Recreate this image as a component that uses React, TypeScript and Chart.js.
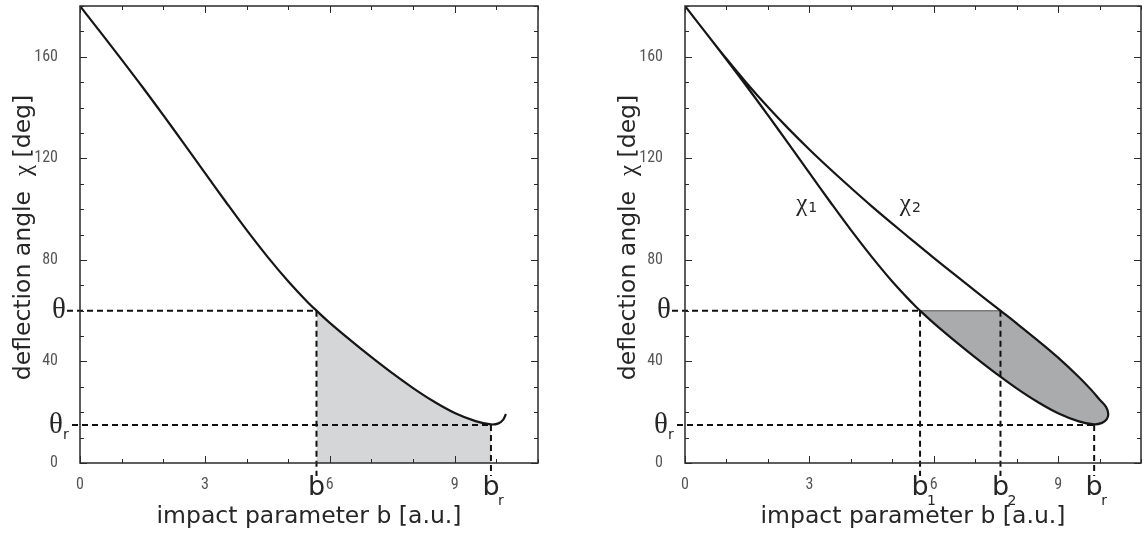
import React, { useEffect, useRef } from "react";
import { Chart, registerables } from "chart.js";

Chart.register(...registerables);

// ---------- axes ----------
const X_MIN = 0;
const X_MAX = 11;
const Y_MIN = 0;
const Y_MAX = 180;
const X_TICK_LABELS = [0, 3, 6, 9];
const Y_TICK_LABELS = [0, 40, 80, 120, 160];

// ---------- reference angles ----------
const THETA = 60;
const THETA_R = 15;

// ---------- left panel: single-valued deflection function ----------
const LEFT_B = [0, 0.5, 1, 1.5, 2, 2.5, 3, 3.5, 4, 4.5, 5, 5.5, 5.68, 6, 6.5, 7, 7.5, 8, 8.5, 9, 9.5, 9.87, 10.05, 10.16, 10.23];
const LEFT_CHI = [180, 169.5, 158.9, 148.1, 137, 125.7, 114.3, 102.9, 91.8, 81.3, 71.6, 62.8, 60, 55.2, 48.3, 41.7, 35.4, 29.5, 24.2, 19.7, 16.5, 15.2, 15.6, 17, 19.3];
const LEFT_B_THETA = 5.68;
const LEFT_B_R = 9.87;

// ---------- right panel: two branches chi1 / chi2 ----------
const CHI1_B = [0, 0.5, 1, 1.5, 2, 2.5, 3, 3.5, 4, 4.5, 5, 5.5, 5.67, 6, 6.5, 7, 7.5, 8, 8.5, 9, 9.5, 9.87, 10.06, 10.17, 10.21];
const CHI1_VAL = [180, 169.5, 158.9, 148.1, 137, 125.7, 114.3, 102.9, 91.8, 81.3, 71.5, 62.7, 60, 55.1, 48.2, 41.6, 35.3, 29.4, 24.1, 19.6, 16.4, 15.2, 15.8, 17.2, 19.2];
const CHI2_B = [10.21, 10.16, 10.0, 9.8, 9.5, 9.0, 8.5, 8.0, 7.61, 7.0, 6.5, 6.0, 5.5, 5.0, 4.5, 4.0, 3.5, 3.0, 2.5, 2.0, 1.5, 1.0, 0.5, 0];
const CHI2_VAL = [19.2, 22, 25, 28.8, 33.9, 41.5, 48.4, 55, 60, 67.8, 74.3, 80.8, 87.5, 94.3, 101.2, 108.4, 115.8, 123.5, 131.6, 140.2, 149.4, 159.2, 169.5, 180];
const RIGHT_B1 = 5.67;
const RIGHT_B2 = 7.61;
const RIGHT_B_R = 9.87;

const CURVE_COLOR = "#161616";
const TEXT_COLOR = "#262626";
const TICK_TEXT_COLOR = "#555";
const SANS = "'DejaVu Sans', sans-serif";
const TICK_FONT = "'Liberation Sans Narrow', 'Roboto Condensed', Roboto, sans-serif";
const SERIF = "'Liberation Serif', 'DejaVu Serif', serif";

const pts = (xs: number[], ys: number[]) => xs.map((x, i) => ({ x, y: ys[i] }));

function drawRuns(ctx: CanvasRenderingContext2D, runs: { t: string; f: string }[], cx: number, cy: number) {
  let total = 0;
  for (const r of runs) {
    ctx.font = r.f;
    total += ctx.measureText(r.t).width;
  }
  let x = cx - total / 2;
  ctx.textAlign = "left";
  for (const r of runs) {
    ctx.font = r.f;
    ctx.fillText(r.t, x, cy);
    x += ctx.measureText(r.t).width;
  }
}

const decor = {
  id: "decor",
  afterDatasetsDraw(chart: any, _a: any, opts: any) {
    const { ctx, chartArea: a, scales } = chart;
    const x = scales.x;
    const y = scales.y;
    ctx.save();
    // dashed reference lines
    ctx.strokeStyle = "#111";
    ctx.lineWidth = 2;
    ctx.setLineDash([6, 4]);
    for (const h of opts.hLines || []) {
      const py = y.getPixelForValue(h.y);
      ctx.beginPath();
      ctx.moveTo(a.left - h.out, py);
      ctx.lineTo(x.getPixelForValue(h.x), py);
      ctx.stroke();
    }
    for (const v of opts.vLines || []) {
      const px = x.getPixelForValue(v.x);
      ctx.beginPath();
      ctx.moveTo(px, y.getPixelForValue(v.y));
      ctx.lineTo(px, a.bottom + 13);
      ctx.stroke();
    }
    ctx.setLineDash([]);
    // frame
    ctx.strokeStyle = "#2a2a2a";
    ctx.lineWidth = 1.5;
    ctx.strokeRect(a.left, a.top, a.right - a.left, a.bottom - a.top);
    // inward ticks
    ctx.lineWidth = 1;
    ctx.beginPath();
    for (const t of x.ticks) {
      const px = Math.round(x.getPixelForValue(t.value)) + 0.5;
      const len = X_TICK_LABELS.includes(t.value) ? 7 : 4;
      ctx.moveTo(px, a.bottom);
      ctx.lineTo(px, a.bottom - len);
      ctx.moveTo(px, a.top);
      ctx.lineTo(px, a.top + len);
    }
    for (const t of y.ticks) {
      const py = Math.round(y.getPixelForValue(t.value)) + 0.5;
      const len = Y_TICK_LABELS.includes(t.value) ? 7 : 4;
      ctx.moveTo(a.left, py);
      ctx.lineTo(a.left + len, py);
      ctx.moveTo(a.right, py);
      ctx.lineTo(a.right - len, py);
    }
    ctx.stroke();
    ctx.restore();
  },
  afterDraw(chart: any, _a: any, opts: any) {
    const { ctx, chartArea: a, scales } = chart;
    const x = scales.x;
    const y = scales.y;
    ctx.save();
    ctx.fillStyle = TEXT_COLOR;
    // theta labels
    ctx.textBaseline = "middle";
    ctx.textAlign = "right";
    ctx.font = `29px ${SERIF}`;
    ctx.fillText("θ", a.left - 14, y.getPixelForValue(THETA));
    const pyr = y.getPixelForValue(THETA_R);
    ctx.fillText("θ", a.left - 17, pyr);
    ctx.textAlign = "left";
    ctx.font = `14px ${SANS}`;
    ctx.fillText("r", a.left - 17, pyr + 10);
    // b labels
    for (const b of opts.bLabels || []) {
      const px = x.getPixelForValue(b.x);
      ctx.textBaseline = "alphabetic";
      ctx.textAlign = "center";
      ctx.font = `27px ${SANS}`;
      ctx.fillText("b", px, a.bottom + 32);
      if (b.sub) {
        ctx.textAlign = "left";
        ctx.font = `14px ${SANS}`;
        ctx.fillText(b.sub, px + 7, a.bottom + 42);
      }
    }
    // chi labels
    for (const c of opts.chiLabels || []) {
      const px = x.getPixelForValue(c.x);
      const py = y.getPixelForValue(c.y);
      ctx.textBaseline = "middle";
      ctx.textAlign = "right";
      ctx.font = `25px ${SERIF}`;
      ctx.fillText("χ", px, py);
      ctx.textAlign = "left";
      ctx.font = `14px ${SANS}`;
      ctx.fillText(c.sub, px + 1, py + 4);
    }
    // axis titles
    const titleFont = `23.5px ${SANS}`;
    ctx.textBaseline = "alphabetic";
    drawRuns(ctx, [{ t: "impact parameter b [a.u.]", f: titleFont }], (a.left + a.right) / 2, a.bottom + 60);
    ctx.save();
    ctx.translate(a.left - 56, (a.top + a.bottom) / 2 + 3);
    ctx.rotate(-Math.PI / 2);
    ctx.textBaseline = "middle";
    drawRuns(
      ctx,
      [
        { t: "deflection angle  ", f: titleFont },
        { t: "χ", f: `25px ${SERIF}` },
        { t: " [deg]", f: titleFont },
      ],
      0,
      0
    );
    ctx.restore();
    ctx.restore();
  },
};

function baseOptions(padRight: number, yWidth: number, decorOpts: any) {
  const fitY = (s: any) => {
    s.width = yWidth;
    s.paddingTop = 0;
    s.paddingBottom = 0;
  };
  const fitX = (s: any) => {
    s.height = 73;
    s.paddingLeft = 0;
    s.paddingRight = 0;
  };
  return {
    responsive: false,
    animation: false as const,
    layout: { padding: { left: 0, right: padRight, top: 6, bottom: 0 } },
    plugins: {
      legend: { display: false },
      tooltip: { enabled: false },
      decor: decorOpts,
    },
    elements: { point: { radius: 0 } },
    scales: {
      x: {
        type: "linear" as const,
        min: X_MIN,
        max: X_MAX,
        grid: { display: false },
        border: { display: false },
        afterFit: fitX,
        ticks: {
          stepSize: 1,
          autoSkip: false,
          maxRotation: 0,
          padding: 4,
          color: TICK_TEXT_COLOR,
          font: { family: TICK_FONT, size: 16 },
          callback: (v: any) => (X_TICK_LABELS.includes(v) ? String(v) : ""),
        },
      },
      y: {
        type: "linear" as const,
        min: Y_MIN,
        max: Y_MAX,
        grid: { display: false },
        border: { display: false },
        afterFit: fitY,
        ticks: {
          stepSize: 10,
          autoSkip: false,
          padding: 14,
          color: TICK_TEXT_COLOR,
          font: { family: TICK_FONT, size: 16 },
          callback: (v: any) => (Y_TICK_LABELS.includes(v) ? String(v) : ""),
        },
      },
    },
  };
}

function leftConfig(): any {
  const curve = pts(LEFT_B, LEFT_CHI);
  const shaded = curve.filter((p) => p.x >= LEFT_B_THETA && p.x <= LEFT_B_R);
  return {
    type: "scatter",
    data: {
      datasets: [
        {
          data: curve,
          showLine: true,
          borderColor: CURVE_COLOR,
          borderWidth: 2.2,
          tension: 0.4,
          pointRadius: 0,
          fill: false,
          order: 0,
        },
        {
          data: shaded,
          showLine: true,
          borderWidth: 0,
          borderColor: "rgba(0,0,0,0)",
          backgroundColor: "#d5d6d8",
          tension: 0.4,
          pointRadius: 0,
          fill: "origin",
          order: 2,
        },
      ],
    },
    options: baseOptions(34, 80, {
      hLines: [
        { y: THETA, x: LEFT_B_THETA, out: 13 },
        { y: THETA_R, x: LEFT_B_R, out: 8 },
      ],
      vLines: [
        { x: LEFT_B_THETA, y: THETA },
        { x: LEFT_B_R, y: THETA_R },
      ],
      bLabels: [{ x: LEFT_B_THETA, sub: "" }, { x: LEFT_B_R, sub: "r" }],
      chiLabels: [],
    }),
    plugins: [decor],
  };
}

function rightConfig(): any {
  const b1 = pts(CHI1_B, CHI1_VAL);
  const b2 = pts(CHI2_B, CHI2_VAL);
  const loop = [...b1, ...b2.slice(1)];
  const shaded = [...b1.filter((p) => p.x >= RIGHT_B1), ...b2.slice(1).filter((p) => p.y <= THETA)];
  return {
    type: "scatter",
    data: {
      datasets: [
        {
          data: loop,
          showLine: true,
          borderColor: CURVE_COLOR,
          borderWidth: 2.2,
          tension: 0.4,
          pointRadius: 0,
          fill: false,
          order: 0,
        },
        {
          data: [
            { x: RIGHT_B1, y: THETA },
            { x: RIGHT_B2, y: THETA },
          ],
          showLine: true,
          borderColor: "#7a7a7a",
          borderWidth: 1.5,
          pointRadius: 0,
          fill: false,
          order: 1,
        },
        {
          data: shaded,
          showLine: true,
          borderWidth: 0,
          borderColor: "rgba(0,0,0,0)",
          backgroundColor: "#a9abad",
          tension: 0.4,
          pointRadius: 0,
          fill: "shape",
          order: 2,
        },
      ],
    },
    options: baseOptions(3, 113, {
      hLines: [
        { y: THETA, x: RIGHT_B1, out: 13 },
        { y: THETA_R, x: RIGHT_B_R, out: 8 },
      ],
      vLines: [
        { x: RIGHT_B1, y: THETA },
        { x: RIGHT_B2, y: THETA },
        { x: RIGHT_B_R, y: THETA_R },
      ],
      bLabels: [
        { x: RIGHT_B1, sub: "1" },
        { x: RIGHT_B2, sub: "2" },
        { x: RIGHT_B_R, sub: "r" },
      ],
      chiLabels: [
        { x: 2.95, y: 102, sub: "1" },
        { x: 5.45, y: 102, sub: "2" },
      ],
    }),
    plugins: [decor],
  };
}

function Panel({ left, make }: { left: number; make: () => any }) {
  const ref = useRef<HTMLCanvasElement>(null);
  useEffect(() => {
    const chart = new Chart(ref.current as HTMLCanvasElement, make());
    return () => chart.destroy();
  }, []);
  return (
    <canvas
      ref={ref}
      width={572}
      height={536}
      style={{ position: "absolute", left, top: 0, width: 572, height: 536 }}
    />
  );
}

export default function App() {
  return (
    <div style={{ position: "absolute", left: 0, top: 0, width: 1144, height: 536, background: "#fff" }}>
      <Panel left={0} make={leftConfig} />
      <Panel left={572} make={rightConfig} />
    </div>
  );
}
